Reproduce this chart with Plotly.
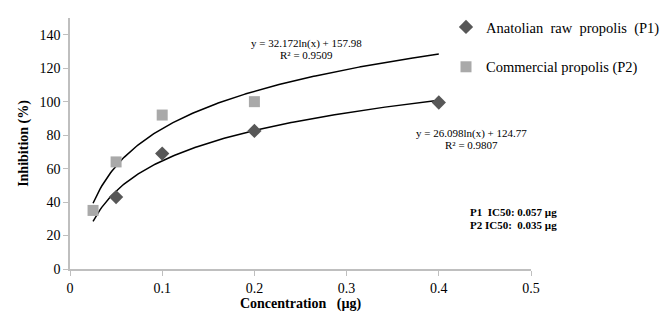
import numpy as np
import plotly.graph_objects as go

# Data
p1_x = [0.05, 0.1, 0.2, 0.4]
p1_y = [43, 69, 82.5, 99.5]
p2_x = [0.025, 0.05, 0.1, 0.2]
p2_y = [35, 64, 92, 100]
# logarithmic trendline coefficients (y = a*ln(x) + b)
p1_fit = (26.098, 124.77)
p2_fit = (32.172, 157.98)
fit_range = (0.025, 0.4)
x_ticks = [0, 0.1, 0.2, 0.3, 0.4, 0.5]
y_ticks = [0, 20, 40, 60, 80, 100, 120, 140]

SERIF = "Liberation Serif"
xs = np.linspace(fit_range[0], fit_range[1], 200)

fig = go.Figure()
fig.add_trace(go.Scatter(x=xs, y=p1_fit[0] * np.log(xs) + p1_fit[1], mode="lines",
                         line=dict(color="black", width=1.5), showlegend=False, hoverinfo="skip"))
fig.add_trace(go.Scatter(x=xs, y=p2_fit[0] * np.log(xs) + p2_fit[1], mode="lines",
                         line=dict(color="black", width=1.5), showlegend=False, hoverinfo="skip"))
fig.add_trace(go.Scatter(x=p1_x, y=p1_y, mode="markers", name="Anatolian\u00a0 raw\u00a0 propolis\u00a0 (P1)",
                         marker=dict(symbol="diamond", size=11, color="#575757"), legendgroup="a"))
fig.add_trace(go.Scatter(x=p2_x, y=p2_y, mode="markers", name="Commercial propolis (P2)",
                         marker=dict(symbol="square", size=11, color="#a9a9a9"), legendgroup="b"))

anns = [
    dict(x=306, y=43, text="y = 32.172ln(x) + 157.98"),
    dict(x=306, y=55, text="R² = 0.9509"),
    dict(x=471, y=133, text="y = 26.098ln(x) + 124.77"),
    dict(x=471, y=145, text="R² = 0.9807"),
]
annotations = []
W, H = 670, 317
L, R, T, B = 70, 139, 18, 48
pw, ph = W - L - R, H - T - B
for a in anns:
    annotations.append(dict(x=(a["x"] - L) / pw, y=(H - B - a["y"]) / ph, xref="paper", yref="paper",
                            text=a["text"], showarrow=False, xanchor="center", yanchor="middle",
                            font=dict(family=SERIF, size=11, color="black")))
for txt, yy in [("<b>P1\u00a0 IC50: 0.057 µg</b>", 212), ("<b>P2 IC50:\u00a0 0.035 µg</b>", 225)]:
    annotations.append(dict(x=(468 - L) / pw, y=(H - B - yy) / ph, xref="paper", yref="paper",
                            text=txt, showarrow=False, xanchor="left", yanchor="middle",
                            font=dict(family=SERIF, size=11, color="black")))

fig.update_layout(
    width=W, height=H,
    margin=dict(l=L, r=R, t=T, b=B, autoexpand=False),
    plot_bgcolor="white", paper_bgcolor="white",
    font=dict(family=SERIF, size=14, color="black"),
    annotations=annotations,
    legend=dict(x=(446 - L) / pw, y=(H - B - 11) / ph, xanchor="left", yanchor="top",
                font=dict(family=SERIF, size=14.5, color="black"), tracegroupgap=18,
                bgcolor="rgba(0,0,0,0)", itemwidth=30),
    xaxis=dict(range=[0, 0.5], tickvals=x_ticks, ticktext=[str(v) for v in x_ticks],
               showgrid=False, zeroline=False, showline=True, linecolor="#bfbfbf", linewidth=1.5,
               ticks="outside", tickcolor="#bfbfbf", ticklen=5, automargin=False,
               title=dict(text="<b>Concentration\u00a0\u00a0 (µg)</b>", font=dict(size=14), standoff=4)),
    yaxis=dict(range=[0, 150], tickvals=y_ticks, showgrid=False, zeroline=False, showline=True,
               linecolor="#bfbfbf", linewidth=1.5, ticks="outside", tickcolor="#bfbfbf", ticklen=5,
               automargin=False,
               title=dict(text="<b>Inhibition (%)</b>", font=dict(size=14), standoff=8)),
)
fig.write_html("out.html", config={"displayModeBar": False},
               post_script="document.body.style.margin='0';")
